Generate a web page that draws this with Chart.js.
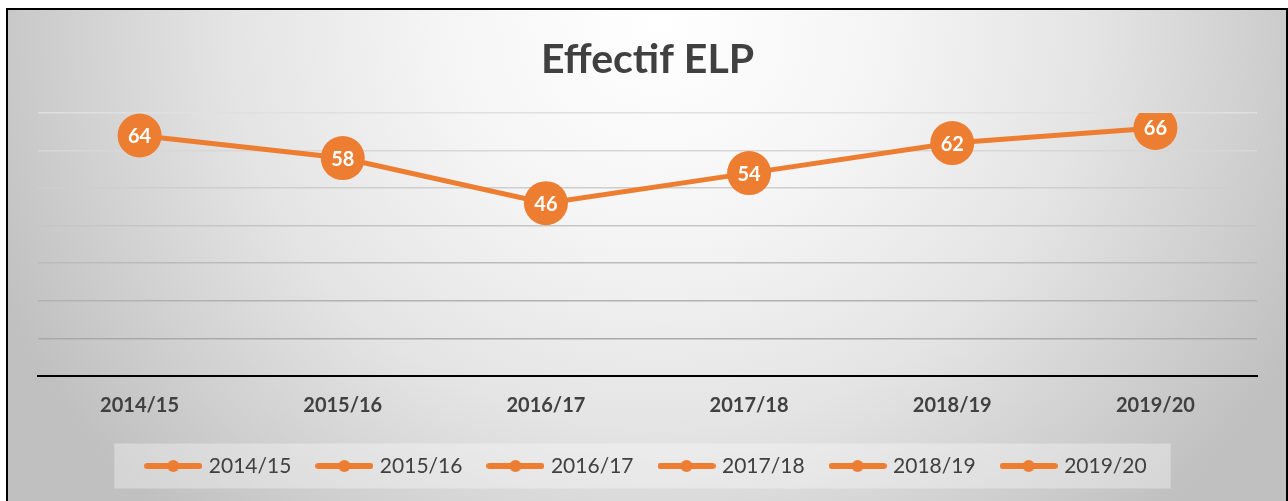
<!DOCTYPE html>
<html><head><meta charset="utf-8">
<script src="https://cdn.jsdelivr.net/npm/chart.js@4.4.1/dist/chart.umd.min.js"></script>
<style>html,body{margin:0;padding:0;background:#fff;}#wrap{width:1288px;height:501px;position:relative}</style>
</head><body><div id="wrap"><canvas id="c" width="1288" height="501"></canvas></div>
<script>
const categories = ['2014/15','2015/16','2016/17','2017/18','2018/19','2019/20'];
const values = [64, 58, 46, 54, 62, 66];
const yMin = 0, yMax = 70, yStep = 10;
const chartTitle = 'Effectif ELP';

const ORANGE = '#ED7D31';
const TEXT = '#404040';
const FONT = 'Lato';

function legendSymbol(){
  const c = document.createElement('canvas');
  c.width = 58; c.height = 14;
  const g = c.getContext('2d');
  g.strokeStyle = ORANGE; g.lineWidth = 6; g.lineCap = 'round';
  g.beginPath(); g.moveTo(3,7); g.lineTo(55,7); g.stroke();
  g.fillStyle = ORANGE; g.beginPath(); g.arc(29,7,6,0,Math.PI*2); g.fill();
  return c;
}
const sym = legendSymbol();

function gridColor(v){
  if (v === 0) return 'rgba(0,0,0,0)';
  const t = v / yMax;
  const c = Math.round(160 + t*64);
  return `rgb(${c},${c},${c})`;
}

const bgPlugin = {
  id: 'bg',
  beforeDraw(chart){
    const ctx = chart.ctx;
    ctx.save();
    ctx.fillStyle = '#fff';
    ctx.fillRect(0,0,chart.width,chart.height);
    ctx.save();
    ctx.beginPath(); ctx.rect(7,9,1280,520); ctx.clip();
    ctx.translate(660, 20);
    ctx.scale(1, 0.95);
    const g = ctx.createRadialGradient(0,0,0,0,0,720);
    g.addColorStop(0,'#ffffff');
    g.addColorStop(0.3,'#f5f5f5');
    g.addColorStop(0.6,'#e4e4e4');
    g.addColorStop(1,'#c0c0c0');
    ctx.fillStyle = g;
    ctx.fillRect(-800,-50,1700,900);
    ctx.restore();
    const hb = chart.legend && chart.legend.legendHitBoxes;
    if (hb && hb.length){
      const first = hb[0], last = hb[hb.length-1];
      const cy = first.top + first.height/2;
      ctx.fillStyle = 'rgba(255,255,255,0.33)';
      ctx.fillRect(first.left - 34, cy - 22.5, (last.left + last.width + 24) - (first.left - 34), 45);
    }
    ctx.restore();
  },
  afterDraw(chart){
    const ctx = chart.ctx;
    ctx.save();
    ctx.strokeStyle = '#000'; ctx.lineWidth = 2;
    ctx.strokeRect(7, 9, 1280, 520);
    ctx.restore();
  }
};

const labelPlugin = {
  id: 'vals',
  afterDatasetsDraw(chart){
    const ctx = chart.ctx;
    const meta = chart.getDatasetMeta(0);
    ctx.save();
    ctx.fillStyle = '#fff';
    ctx.font = `bold 20px ${FONT}`;
    ctx.textAlign = 'center'; ctx.textBaseline = 'middle';
    meta.data.forEach((pt,i) => ctx.fillText(String(values[i]), pt.x, pt.y + 1));
    ctx.restore();
  }
};

new Chart(document.getElementById('c'), {
  type: 'line',
  data: {
    labels: categories,
    datasets: [{
      label: chartTitle,
      data: values,
      borderColor: ORANGE,
      backgroundColor: ORANGE,
      borderWidth: 5,
      pointRadius: 22,
      pointHoverRadius: 22,
      pointBackgroundColor: ORANGE,
      pointBorderWidth: 0,
      tension: 0,
      fill: false
    }]
  },
  options: {
    responsive: false,
    animation: false,
    devicePixelRatio: 1,
    layout: { padding: { top: 10, left: 38, right: 31, bottom: 14.5 } },
    plugins: {
      title: {
        display: true, text: chartTitle, color: TEXT,
        font: { family: FONT, size: 41, weight: 'bold' },
        padding: { top: 25.4, bottom: 28.4 }
      },
      legend: {
        display: true, position: 'bottom',
        labels: {
          usePointStyle: true, pointStyleWidth: 50, padding: 28,
          color: TEXT, font: { family: FONT, size: 21 },
          generateLabels: () => categories.map(c => ({
            text: c, pointStyle: sym, fillStyle: ORANGE, strokeStyle: ORANGE,
            lineWidth: 0, hidden: false, fontColor: TEXT, datasetIndex: 0
          }))
        },
        onClick: () => {}
      },
      tooltip: { enabled: false }
    },
    scales: {
      x: {
        offset: true,
        grid: { display: false, drawTicks: false },
        border: { display: true, color: '#000', width: 2 },
        ticks: { color: TEXT, font: { family: FONT, size: 20, weight: 'bold' }, padding: 18, maxRotation: 0 },
        afterFit: (s) => { s.height -= 8.5; }
      },
      y: {
        min: yMin, max: yMax,
        ticks: { display: false, stepSize: yStep },
        border: { display: false },
        grid: { drawTicks: false, lineWidth: 1.6, color: (c) => gridColor(c.tick.value) }
      }
    }
  },
  plugins: [bgPlugin, labelPlugin]
});
</script></body></html>
